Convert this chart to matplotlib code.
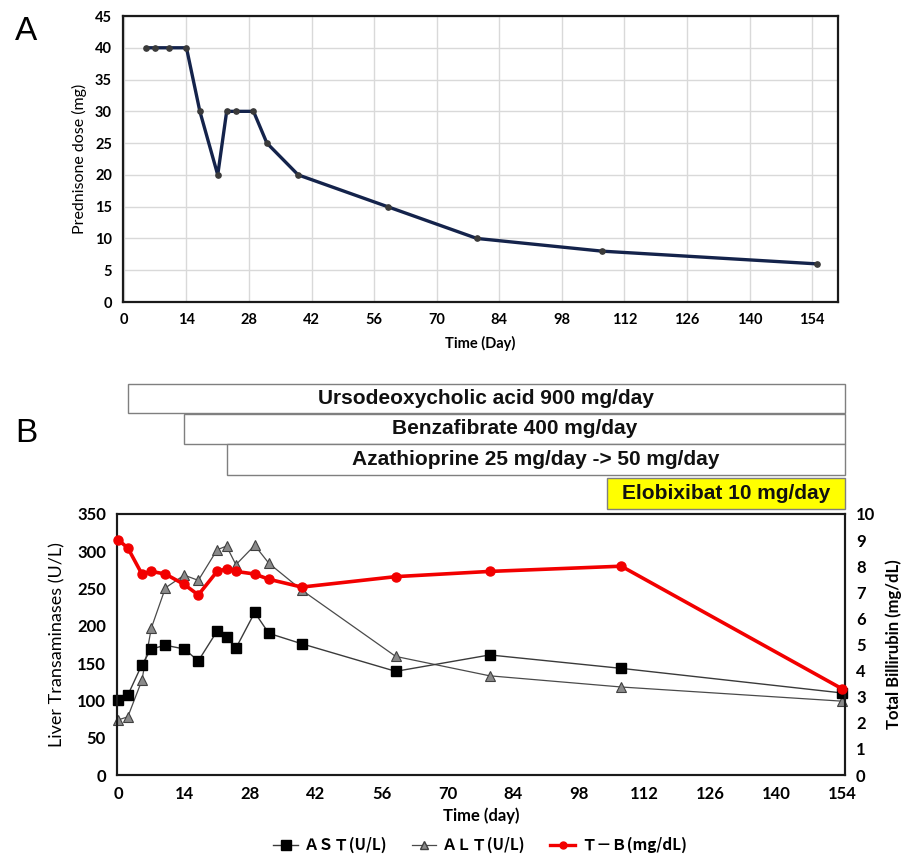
import matplotlib
matplotlib.use("Agg")
import matplotlib.pyplot as plt
import matplotlib.transforms as mtransforms
from matplotlib.lines import Line2D
from matplotlib.patches import Rectangle

# ---------------- data ----------------
pred_days = [5, 7, 10, 14, 17, 21, 23, 25, 29, 32, 39, 59, 79, 107, 155]
pred_dose = [40, 40, 40, 40, 30, 20, 30, 30, 30, 25, 20, 15, 10, 8, 6]

lab_days = [0, 2, 5, 7, 10, 14, 17, 21, 23, 25, 29, 32, 39, 59, 79, 107, 154]
ast = [100, 107, 148, 169, 174, 169, 153, 193, 185, 170, 218, 190, 176, 139, 161, 143, 110]
alt = [74, 78, 127, 197, 251, 268, 261, 302, 307, 282, 308, 284, 248, 159, 133, 118, 99]
tbil = [9.0, 8.7, 7.7, 7.8, 7.7, 7.3, 6.9, 7.8, 7.9, 7.8, 7.7, 7.5, 7.2, 7.6, 7.8, 8.0, 3.3]

drug_names = ["Ursodeoxycholic acid 900 mg/day", "Benzafibrate 400 mg/day",
              "Azathioprine 25 mg/day -> 50 mg/day", "Elobixibat 10 mg/day"]
drug_start = [2, 14, 23, 104]
drug_colors = ["white", "white", "white", "#FFFF00"]

x_ticks = list(range(0, 155, 14))
pred_yticks = list(range(0, 46, 5))
trans_yticks = list(range(0, 351, 50))
bil_yticks = list(range(0, 11, 1))

# ---------------- figure ----------------
W, H = 906, 856
fig = plt.figure(figsize=(W / 100, H / 100), dpi=100)

def px_axes(l, t, r, b):
    return fig.add_axes([l / W, 1 - b / H, (r - l) / W, (b - t) / H])

# ---------------- Panel A ----------------
axA = px_axes(123, 16, 838, 302)
axA.plot(pred_days, pred_dose, color="#14234B", lw=2.4, marker="o", ms=3.8,
         mfc="#3a3a3a", mec="#3a3a3a", clip_on=False, zorder=3)
axA.set_xlim(-0.2, 159.8)
axA.set_ylim(0, 45)
axA.set_xticks(x_ticks)
axA.set_yticks(pred_yticks)
axA.grid(True, color="#D9D9D9", lw=1)
axA.set_axisbelow(True)
for s in axA.spines.values():
    s.set_linewidth(1.6)
    s.set_color("#1a1a1a")
axA.tick_params(length=0, pad=8, labelsize=10.5)
for lab in axA.get_xticklabels() + axA.get_yticklabels():
    lab.set_fontfamily("Lato"); lab.set_fontweight("bold")
axA.set_xlabel("Time (Day)", fontsize=10.5, family="Lato", weight="bold", labelpad=6)
axA.set_ylabel("Prednisone dose (mg)", fontsize=11.5, family="Lato", labelpad=6)
fig.text(26 / W, 1 - 32 / H, "A", fontsize=24, family="Liberation Sans", ha="center", va="center")

# ---------------- Panel B ----------------
axB = px_axes(117, 514, 845, 775)
axB.plot(lab_days, ast, color="#3a3a3a", lw=1.0, marker="s", ms=7.5,
         mfc="black", mec="black", clip_on=False, zorder=3)
axB.plot(lab_days, alt, color="#4a4a4a", lw=0.9, marker="^", ms=6.5,
         mfc="#8a8a8a", mec="#404040", mew=0.8, clip_on=False, zorder=2)
axB.set_xlim(-0.3, 154.6)
axB.set_ylim(0, 350)
axB.set_xticks(x_ticks)
axB.set_yticks(trans_yticks)
axB2 = axB.twinx()
axB2.plot(lab_days, tbil, color="#F20000", lw=2.6, marker="o", ms=6.5,
          mfc="#F20000", mec="#F20000", clip_on=False, zorder=4)
axB2.set_ylim(0, 10)
axB2.set_yticks(bil_yticks)
for ax in (axB, axB2):
    for s in ax.spines.values():
        s.set_linewidth(1.5)
        s.set_color("#1a1a1a")
    ax.tick_params(length=0, pad=8, labelsize=12)
for lab in axB.get_xticklabels() + axB.get_yticklabels() + axB2.get_yticklabels():
    lab.set_fontfamily("Lato"); lab.set_fontweight("bold")
axB.set_xlabel("Time (day)", fontsize=12, family="Lato", weight="bold", labelpad=4)
axB.set_ylabel("Liver Transaminases (U/L)", fontsize=13, family="Lato", labelpad=8)
axB2.set_ylabel("Total Billirubin (mg/dL)", fontsize=12, family="Lato", weight="bold", labelpad=7)
fig.text(26 / W, 1 - 433 / H, "B", fontsize=24, family="Liberation Sans", ha="center", va="center")

# treatment boxes (x in B data coords, y in figure coords)
blend = mtransforms.blended_transform_factory(axB.transData, fig.transFigure)
box_px = [(384, 413), (414, 444), (444, 475), (478, 509)]
x_end = 154.6
for name, start, col, (t, b) in zip(drug_names, drug_start, drug_colors, box_px):
    y0 = 1 - b / H
    hgt = (b - t) / H
    rect = Rectangle((start, y0), x_end - start, hgt, transform=blend,
                     facecolor=col, edgecolor="#7f7f7f", lw=1.0, clip_on=False)
    fig.add_artist(rect)
    fig.text((start + x_end) / 2, y0 + hgt / 2, name, transform=blend,
             ha="center", va="center", fontsize=15, family="Liberation Sans",
             weight="bold", color="#111111")

# legend
handles = [
    Line2D([], [], color="#3a3a3a", lw=1.0, marker="s", ms=7, mfc="black", mec="black"),
    Line2D([], [], color="#4a4a4a", lw=0.9, marker="^", ms=6, mfc="#8a8a8a", mec="#404040"),
    Line2D([], [], color="#F20000", lw=2.4, marker="o", ms=5, mfc="#F20000", mec="#F20000"),
]
labels = ["ＡＳＴ(U/L)", "ＡＬＴ(U/L)", "Ｔ－Ｂ(mg/dL)"]
fig.legend(handles, labels, loc="center", bbox_to_anchor=(480 / W, 1 - 845 / H),
           ncol=3, frameon=False, handlelength=1.6, columnspacing=1.6, handletextpad=0.4,
           prop=dict(family=["Noto Sans CJK JP", "DejaVu Sans"], size=11, weight="bold"))

fig.savefig("out.png", dpi=100)
